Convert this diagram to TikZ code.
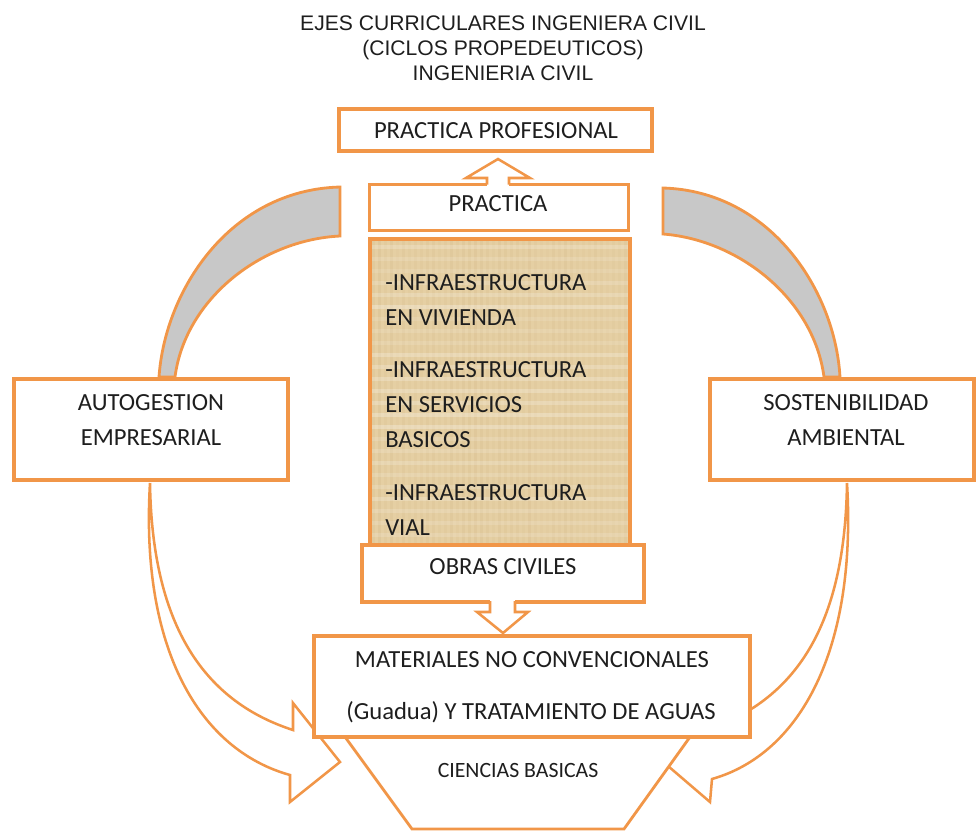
\documentclass[tikz,border=0pt]{standalone}
\usepackage{fontspec}
\setmainfont{Carlito}
\newfontfamily\titlefont{Liberation Sans}
\definecolor{ejeorange}{RGB}{241,150,72}
\definecolor{ejegrey}{RGB}{200,200,200}
\definecolor{papiro}{RGB}{229,207,163}
\definecolor{papirodark}{RGB}{214,188,140}
\definecolor{ejetext}{RGB}{30,30,30}

\begin{document}
\begin{tikzpicture}[x=0.025cm, y=-0.025cm,
    box/.style={draw=ejeorange, line width=3pt, fill=white},
    thinbox/.style={draw=ejeorange, line width=2.2pt, fill=white},
    band/.style={draw=ejeorange, line width=2pt, fill=ejegrey},
    blockarrow/.style={draw=ejeorange, line width=1.8pt, fill=white},
    lbl/.style={font=\fontsize{17.5}{21}\selectfont, text=ejetext, anchor=base, inner sep=0pt},
    small/.style={font=\fontsize{15.5}{18}\selectfont, text=ejetext, anchor=base, inner sep=0pt},
    titl/.style={font=\titlefont\fontsize{15}{18}\selectfont, text=ejetext, anchor=base, inner sep=0pt}]
  \useasboundingbox (0,0) rectangle (976,831);
  % grey bands towards the top
  \draw[band] (340,187) .. controls (230,190) and (165,290) .. (159,377) -- (175,377)
      .. controls (185,300) and (260,240) .. (340,236) -- cycle;
  \draw[band] (663,188) .. controls (770,191) and (835,290) .. (840,377) -- (824,377)
      .. controls (814,300) and (740,240) .. (663,234) -- cycle;
  % side boxes
  \draw[box] (14,379) rectangle (288,480);
  \draw[box] (710,379) rectangle (974,480);
  \coordinate (auto-s) at (150,483);
  \coordinate (sost-s) at (847,483);
  % curved arrows down to the base
  \draw[blockarrow] (auto-s) .. controls (152,620) and (200,700) .. (293,730) -- (293,703)
      -- (340,762) -- (290,802) -- (290,775) .. controls (200,750) and (140,650) .. (auto-s);
  \draw[blockarrow] (sost-s) .. controls (845,620) and (800,698) .. (707,730) -- (707,703)
      -- (668,766) -- (710,802) -- (712,779) .. controls (800,754) and (857,650) .. (sost-s);
  % trapezoid of the base
  \draw[blockarrow, line width=2pt] (340,730) -- (412,829) -- (624,829) -- (695,730) -- cycle;
  % central column
  \draw[box] (339,109) rectangle (652,151);
  \draw[thinbox] (369.5,184.5) rectangle (628.5,230.5);
  \fill[white] (487,176) rectangle (509,186.5);
  \draw[blockarrow, line join=miter] (487,184.5) -- (487,178) -- (466,178) -- (498,159)
      -- (530,178) -- (509,178) -- (509,184.5);
  % papyrus panel with a light grain
  \fill[papiro] (370,239) rectangle (630,545);
  \pgfmathsetseed{11}
  \foreach \gx in {372,378,...,626} {
    \pgfmathsetmacro{\gop}{0.1+0.25*rnd}
    \fill[papirodark, opacity=\gop] (\gx,240) rectangle (\gx+3,545);
  }
  \foreach \gy in {245,257,...,540} {
    \pgfmathsetmacro{\gop}{0.1+0.2*rnd}
    \fill[white, opacity=\gop] (371,\gy) rectangle (629,\gy+4);
  }
  \draw[ejeorange, line width=3pt] (370,239) rectangle (630,545);
  \draw[thinbox, line width=2.6pt] (362,545) rectangle (644,602);
  \fill[white] (490,600) rectangle (515,613);
  \draw[blockarrow, line join=miter] (490,601) -- (490,612) -- (477,612) -- (503,633)
      -- (528,612) -- (515,612) -- (515,601);
  \draw[box] (314,636) rectangle (750,737);
  % texts
  \node[titl] (t1) at (503,30) {EJES CURRICULARES INGENIERA CIVIL};
  \node[titl] (t2) at (503,55) {(CICLOS PROPEDEUTICOS)};
  \node[titl] (t3) at (503,80) {INGENIERIA CIVIL};
  \node[lbl] (prof) at (496,138) {PRACTICA PROFESIONAL};
  \node[lbl] (prac) at (498,211) {PRACTICA};
  \node[lbl, anchor=base west] (inf1) at (385,290) {-INFRAESTRUCTURA};
  \node[lbl, anchor=base west] (inf1b) at (385,325) {EN VIVIENDA};
  \node[lbl, anchor=base west] (inf2) at (385,377) {-INFRAESTRUCTURA};
  \node[lbl, anchor=base west] (inf2b) at (385,412) {EN SERVICIOS};
  \node[lbl, anchor=base west] (inf2c) at (385,447) {BASICOS};
  \node[lbl, anchor=base west] (inf3) at (385,500) {-INFRAESTRUCTURA};
  \node[lbl, anchor=base west] (inf3b) at (385,535) {VIAL};
  \node[lbl] (auto) at (151,410) {AUTOGESTION};
  \node[lbl] (autob) at (151,445) {EMPRESARIAL};
  \node[lbl] (sost) at (846,410) {SOSTENIBILIDAD};
  \node[lbl] (sostb) at (846,445) {AMBIENTAL};
  \node[lbl] (obras) at (503,574) {OBRAS CIVILES};
  \node[lbl] (mat) at (532,667) {MATERIALES NO CONVENCIONALES};
  \node[lbl] (matb) at (531,719) {(Guadua) Y TRATAMIENTO DE AGUAS};
  \node[small] (cien) at (518,777) {CIENCIAS BASICAS};
\end{tikzpicture}
\end{document}
